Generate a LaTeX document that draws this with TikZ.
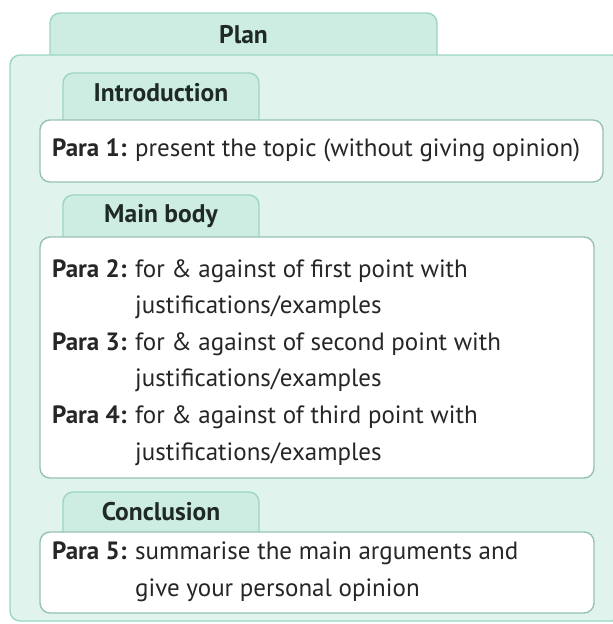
\documentclass[tikz,border=0pt]{standalone}
\usepackage{fontspec}
\setmainfont{PT Sans}
\usetikzlibrary{positioning}
\definecolor{outerfill}{HTML}{E0F4ED}
\definecolor{tabfill}{HTML}{CDECE2}
\definecolor{tabline}{HTML}{9CD5C4}
\definecolor{boxline}{HTML}{97C2B3}
\definecolor{tabtextcol}{HTML}{1F2A27}
\newcommand{\lbl}[1]{\makebox[83pt][l]{\bfseries #1}}
\newcommand{\ind}{\hspace*{83pt}}
\tikzset{
  outerbox/.style={draw=tabline,fill=outerfill,line width=1.4pt,rounded corners=10pt},
  tabshape/.style={draw=tabline,fill=tabfill,line width=1.4pt,rounded corners=10pt},
  parabox/.style={draw=boxline,fill=white,line width=1.4pt,rounded corners=10pt},
  tabtext/.style={anchor=base,inner sep=0pt,text=tabtextcol,font=\fontsize{25.5}{30}\selectfont\bfseries},
  paratext/.style={anchor=base west,inner sep=0pt,align=left,text=black!85,font=\fontsize{25}{36.6}\selectfont}
}
\begin{document}
\begin{tikzpicture}[x=1pt,y=-1pt]
  \useasboundingbox (0,0) rectangle (613,624);
  % plan tab and outer frame
  \draw[tabshape] (50,70) -- (50,13) -- (437,13) -- (437,70);
  \node[tabtext] (plan) at (243.5,43) {Plan};
  \draw[outerbox] (10,55) rectangle (622,621);
  % introduction
  \draw[tabshape] (63,135) -- (63,73) -- (259,73) -- (259,135);
  \node[tabtext] (intro) at (161,101) {Introduction};
  \draw[parabox] (40,120) rectangle (603,182);
  \node[paratext] (para1) at (52,156) {\lbl{Para 1:}present the topic (without giving opinion)};
  % main body
  \draw[tabshape] (63,250) -- (63,195) -- (259,195) -- (259,250);
  \node[tabtext] (mainbody) at (161,222) {Main body};
  \draw[parabox] (40,237) rectangle (594,478);
  % base anchor sits on the last line here
  \node[paratext] (para2) at (52,460) {\lbl{Para 2:}for \& against of first point with\\
    \ind justifications/examples\\
    \lbl{Para 3:}for \& against of second point with\\
    \ind justifications/examples\\
    \lbl{Para 4:}for \& against of third point with\\
    \ind justifications/examples};
  % conclusion
  \draw[tabshape] (63,545) -- (63,492) -- (259,492) -- (259,545);
  \node[tabtext] (concl) at (161,520) {Conclusion};
  \draw[parabox] (40,532) rectangle (594,613);
  \node[paratext] (para5) at (52,596) {\lbl{Para 5:}summarise the main arguments and\\
    \ind give your personal opinion};
\end{tikzpicture}
\end{document}
